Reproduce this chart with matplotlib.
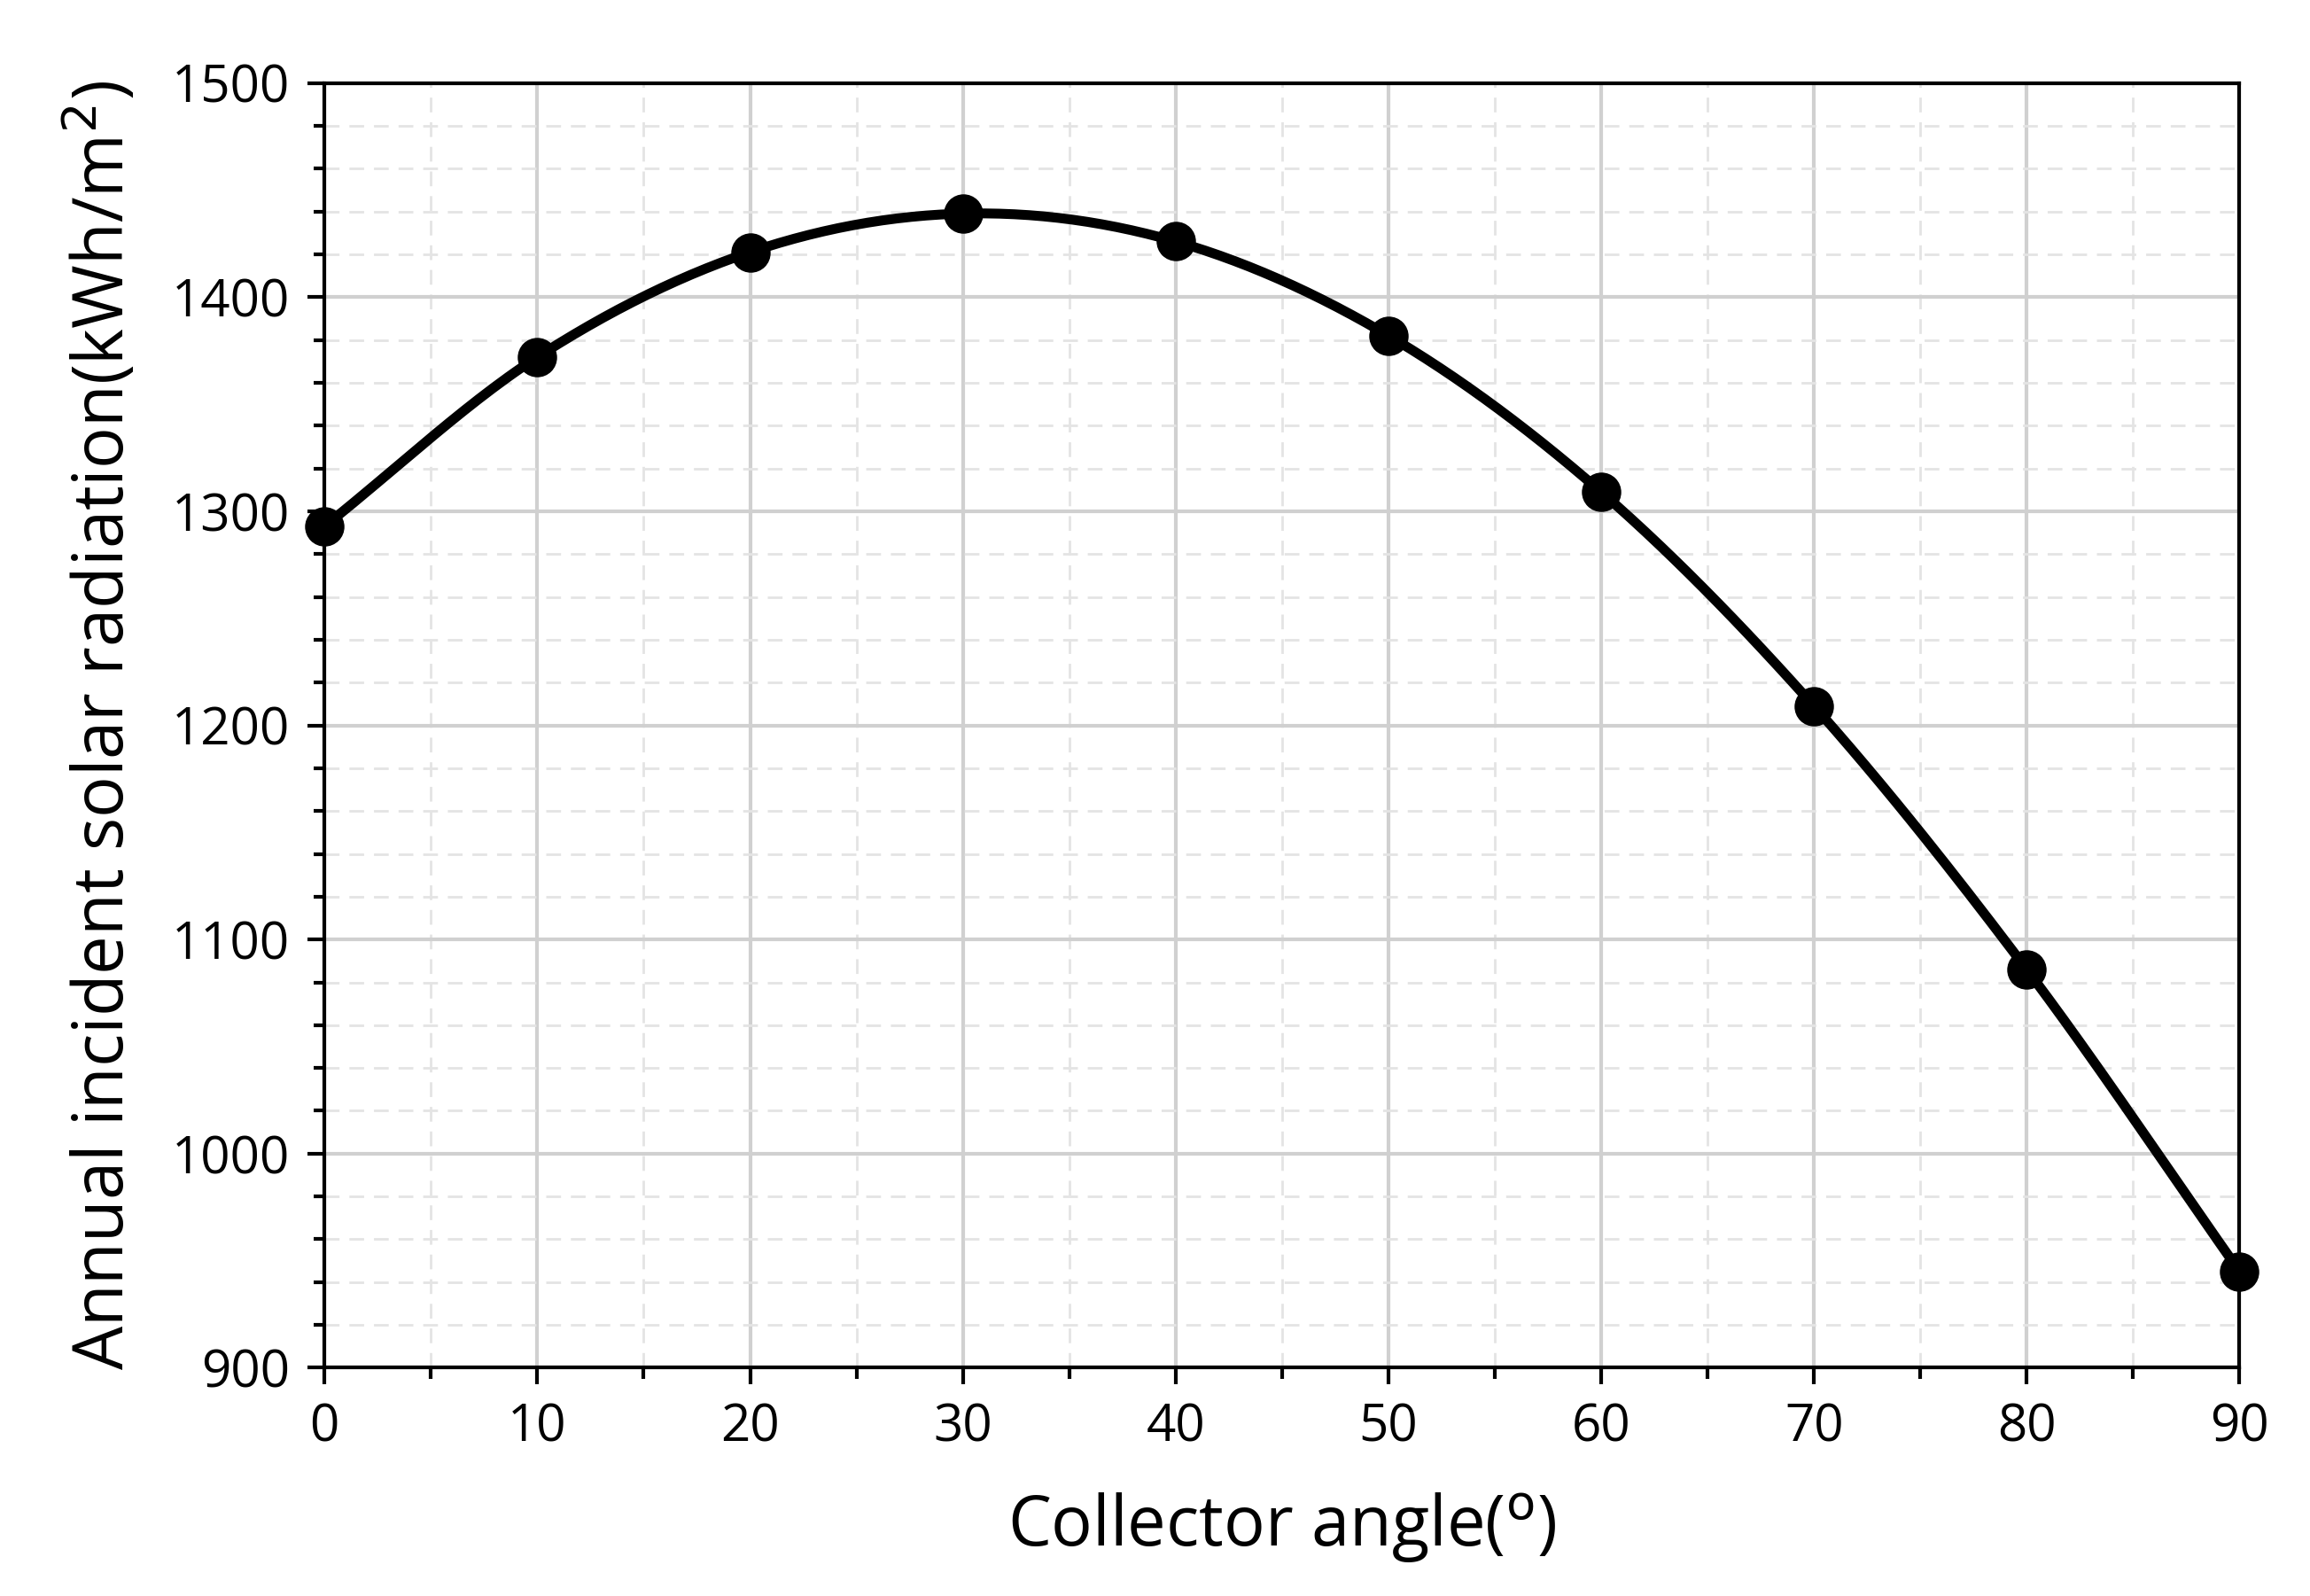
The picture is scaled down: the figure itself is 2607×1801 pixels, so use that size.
import numpy as np
import matplotlib.pyplot as plt
from matplotlib.ticker import MultipleLocator

angles = [0, 10, 20, 30, 40, 50, 60, 70, 80, 90]
radiation = [1293, 1372, 1421, 1439, 1426, 1382, 1309, 1209, 1086, 945]


def smooth(x, y, n=30):
    # Catmull-Rom style smoothing, similar to Excel's smoothed line
    x = np.asarray(x, float); y = np.asarray(y, float)
    px = np.concatenate([[2*x[0]-x[1]], x, [2*x[-1]-x[-2]]])
    py = np.concatenate([[2*y[0]-y[1]], y, [2*y[-1]-y[-2]]])
    xs, ys = [], []
    t = np.linspace(0, 1, n)
    for i in range(1, len(px) - 2):
        for p, out in ((px, xs), (py, ys)):
            p0, p1, p2, p3 = p[i-1], p[i], p[i+1], p[i+2]
            out.extend(0.5*((2*p1) + (-p0+p2)*t + (2*p0-5*p1+4*p2-p3)*t**2
                            + (-p0+3*p1-3*p2+p3)*t**3))
    return xs, ys


plt.rcParams['font.family'] = ['Open Sans', 'DejaVu Sans']
fig = plt.figure(figsize=(26.07, 18.01), dpi=100)
ax = fig.add_axes([0.1405, 0.143, 0.829, 0.805])

sx, sy = smooth(angles, radiation)
ax.plot(sx, sy, color='black', linewidth=8, zorder=3)
ax.plot(angles, radiation, 'o', color='black', markersize=31, zorder=4, clip_on=False)

ax.set_xlim(0, 90)
ax.set_ylim(900, 1500)
ax.xaxis.set_major_locator(MultipleLocator(10))
ax.xaxis.set_minor_locator(MultipleLocator(5))
ax.yaxis.set_major_locator(MultipleLocator(100))
ax.yaxis.set_minor_locator(MultipleLocator(20))
ax.grid(which='major', color='#d0d0d0', linewidth=3)
ax.grid(which='minor', color='#e4e4e4', linewidth=2, linestyle=(0, (6, 4)))
ax.set_axisbelow(True)

for s in ax.spines.values():
    s.set_color('black')
    s.set_linewidth(3)
ax.tick_params(which='major', length=14, width=3, labelsize=42, pad=14)
ax.tick_params(which='minor', length=9, width=3)

ax.set_xlabel('Collector angle($^{\\rm o}$)', fontsize=56, labelpad=30)
ax.set_ylabel('Annual incident solar radiation(kWh/m$^2$)', fontsize=56, labelpad=25)

fig.savefig('out.png', dpi=100)
